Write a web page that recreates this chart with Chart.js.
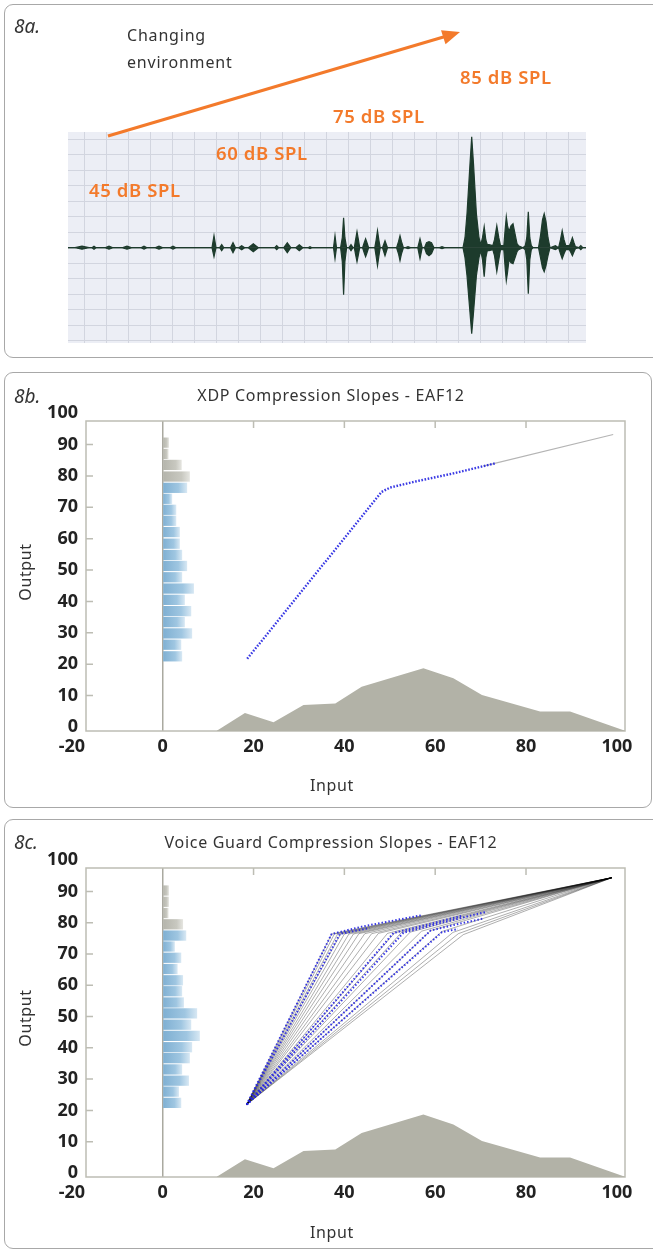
<!DOCTYPE html>
<html>
<head>
<meta charset="utf-8">
<script src="https://cdn.jsdelivr.net/npm/chart.js@4.4.1/dist/chart.umd.min.js"></script>
<style>
body{margin:0;background:#fff;font-family:'Noto Sans',sans-serif;color:#333}
#page{position:relative;width:653px;height:1253px;overflow:hidden}
.panel{position:absolute;border:1.5px solid #a8a8a8;border-radius:9px;box-sizing:border-box}
canvas{position:absolute;left:0}
.t{position:absolute;white-space:nowrap;line-height:1}
.lv{transform:translateY(-50%)}
.cc{transform:translate(-50%,-50%)}
.fig{font-style:italic;font-size:19px;color:#333}
.env{font-size:16px;letter-spacing:0.8px;color:#333}
.spl{font-size:18.5px;font-weight:600;color:#f37a2b;letter-spacing:0.6px}
.ttl{font-size:16px;letter-spacing:0.7px;color:#333}
.ax{font-size:16px;letter-spacing:0.6px;color:#333}
.rot{transform:translate(-50%,-50%) rotate(-90deg)}
</style>
</head>
<body>
<div id="page">
  <div class="panel" style="left:4px;top:4px;width:660px;height:354px"></div>
  <div class="panel" style="left:4px;top:372px;width:648px;height:436px"></div>
  <div class="panel" style="left:4px;top:819px;width:660px;height:430px"></div>

  <canvas id="wave" width="653" height="360" style="top:0"></canvas>
  <canvas id="xdp" width="653" height="440" style="top:370px"></canvas>
  <canvas id="vg" width="653" height="437" style="top:816px"></canvas>

  <svg width="653" height="360" style="position:absolute;left:0;top:0">
    <line x1="108" y1="136" x2="446" y2="36.3" stroke="#f37a2b" stroke-width="3"/>
    <polygon points="460,32 441,30.2 445.5,44.2" fill="#f37a2b"/>
  </svg>

  <div class="t lv fig" style="left:14px;top:26px">8a.</div>
  <div class="t lv env" style="left:127px;top:35px">Changing</div>
  <div class="t lv env" style="left:127px;top:62px">environment</div>
  <div class="t lv spl" style="left:460px;top:77px">85 dB SPL</div>
  <div class="t lv spl" style="left:333px;top:116px">75 dB SPL</div>
  <div class="t lv spl" style="left:216px;top:153px">60 dB SPL</div>
  <div class="t lv spl" style="left:89px;top:190px">45 dB SPL</div>

  <div class="t lv fig" style="left:14px;top:396px">8b.</div>
  <div class="t cc ttl" style="left:331px;top:395px">XDP Compression Slopes - EAF12</div>
  <div class="t rot ax" style="left:25px;top:572px">Output</div>
  <div class="t cc ax" style="left:332px;top:785px">Input</div>

  <div class="t lv fig" style="left:14px;top:842px">8c.</div>
  <div class="t cc ttl" style="left:331px;top:842px">Voice Guard Compression Slopes - EAF12</div>
  <div class="t rot ax" style="left:25px;top:1018px">Output</div>
  <div class="t cc ax" style="left:332px;top:1232px">Input</div>
</div>

<script>
// ---- 8a: speech waveform envelope (t = px from left edge of trace, amplitude up / down)
const WAVE_T = [0, 7, 14, 21, 24, 26, 28, 37, 41, 45, 54, 59, 64, 73, 76, 79, 87, 91, 95, 102, 105, 108,
  144, 146, 148, 151.7, 153.7, 155.7, 162.5, 165, 167.5, 170.7, 173.7, 176.7, 180.3, 185.3, 190.3, 206.7, 208.7, 210.7, 215.8, 219.3, 222.8, 227.8, 231.3, 234.8, 240, 242, 244,
  265.5, 267, 268.5, 272.6, 274.3, 275.6, 276.9, 278.6, 281, 283, 285, 286.3, 287.6, 289, 290.4, 291.7,
  294.6, 296.2, 297.6, 299, 300.6, 306.8, 308.2, 309.5, 310.8, 312.2, 314.5, 317, 319.5, 328.6, 330.5, 332, 333.5, 335.4,
  337, 340, 343, 349.8, 352, 354.2, 356.5, 358.5, 361, 363.5, 366, 371, 374, 377,
  395, 397, 399, 402, 403.7, 405.5, 408.4, 411, 412.8, 414.5, 416.2, 417.8, 419.3, 421,
  424.8, 426.5, 428.8, 430.8, 432.5, 435.8, 437.3, 438.3, 439.5, 441, 443, 445, 447, 449, 450.5,
  455, 457.3, 458.8, 460.3, 461.8, 463.3, 465, 470.5, 472.5, 474.5, 476.2, 478, 480, 482, 487.4,
  490.6, 492.5, 494.2, 496, 497.8, 501.4, 503, 504.4, 506, 507.4, 510.8, 512.8, 514.8, 518];
const WAVE_HI = [0, 0, 1.5, 0, 0, 1.5, 0, 0, 1.5, 0, 0, 1.5, 0, 0, 1.5, 0, 0, 1.5, 0, 0, 1.5, 0,
  0, 12, 0, 0, 3, 0, 0, 5, 0, 0, 2, 0, 0, 4, 0, 0, 2, 0, 0, 5, 0, 0, 3, 0, 0, 1, 0,
  0, 12, 0, 0, 10, 30, 10, 0, 0, 3, 0, 0, 8, 16, 8, 0,
  0, 5, 9, 5, 0, 0, 8, 17, 8, 0, 0, 7, 0, 0, 6, 12, 6, 0,
  0, 1, 0, 0, 9, 0, 0, 5, 6, 5, 0, 0, 1, 0,
  0, 10, 34, 84, 111, 84, 34, 10, 3, 10, 21, 8, 3, 3,
  2, 8, 22, 10, 2, 2, 20, 31, 22, 16, 22, 24, 14, 4, 2,
  0, 2, 10, 36, 10, 2, 0, 0, 12, 28, 34, 26, 10, 0, 2,
  0, 8, 17, 8, 2, 2, 6, 10, 5, 1, 0, 2, 0, 0];
const WAVE_LO = [0, 0, -1.5, 0, 0, -1.5, 0, 0, -1.5, 0, 0, -1.5, 0, 0, -1.5, 0, 0, -1.5, 0, 0, -1.5, 0,
  0, -9, 0, 0, -3, 0, 0, -5, 0, 0, -2, 0, 0, -4, 0, 0, -2, 0, 0, -5, 0, 0, -3, 0, 0, -1, 0,
  0, -11, 0, 0, -14, -47, -14, 0, 0, -3, 0, 0, -7, -14, -7, 0,
  0, -5, -9, -5, 0, 0, -9, -18, -9, 0, 0, -8, 0, 0, -6, -13, -6, 0,
  0, -1, 0, 0, -11, 0, 0, -6, -8, -6, 0, 0, -1, 0,
  0, -10, -28, -65, -86, -65, -28, -10, -3, -12, -29, -10, -3, -3,
  -2, -8, -24, -12, -2, -2, -22, -33, -25, -12, -15, -16, -10, -4, -2,
  0, -2, -12, -46, -12, -2, 0, 0, -10, -20, -24, -18, -8, 0, -2,
  0, -6, -11, -6, -2, -2, -5, -8, -4, -1, 0, -2, 0, 0];

// ---- shared axis ticks for 8b / 8c
const X_TICKS = [-20, 0, 20, 40, 60, 80, 100];
const Y_TICKS = [0, 10, 20, 30, 40, 50, 60, 70, 80, 90, 100];

// input level distribution (grey area), same in 8b and 8c
const DIST_IN = [11.9, 18.1, 24.4, 31.0, 38.0, 43.8, 57.4, 64.0, 70.3, 83.1, 89.7, 101.8];
const DIST_PCT = [-1.2, 4.4, 1.5, 7.0, 7.5, 12.8, 18.7, 15.5, 10.2, 4.9, 4.9, -1.2];

// ---- 8b XDP: output histogram + compression curve
const XDP_BIN_OUT = [22.5, 26.2, 29.8, 33.4, 36.9, 40.5, 44.1, 47.7, 51.3, 54.8, 58.4, 62.1, 65.7, 69.2, 72.7, 76.2, 79.8, 83.5, 87.0, 90.6];
const XDP_BIN_LEN = [4.2, 4.0, 6.4, 4.8, 6.2, 4.8, 6.8, 4.2, 5.3, 4.2, 3.7, 3.7, 2.9, 2.9, 2.0, 5.3, 5.9, 4.1, 1.2, 1.3];
const XDP_CURVE_IN = [18.6, 48.2, 50.1, 55.9, 64.0, 70.6, 73.2];
const XDP_CURVE_OUT = [21.7, 74.9, 76.3, 78.3, 80.8, 83.1, 84.0];
const XDP_TAIL_IN = [70.6, 99.2];
const XDP_TAIL_OUT = [83.1, 93.2];

// ---- 8c Voice Guard: output histogram + family of slopes
const VG_BIN_OUT = [22.4, 26.0, 29.5, 33.1, 36.7, 40.2, 43.8, 47.4, 51.0, 54.5, 58.1, 61.6, 65.2, 68.8, 72.4, 75.9, 79.5, 83.1, 86.7, 90.3];
const VG_BIN_LEN = [4.0, 3.5, 5.7, 4.2, 5.9, 6.4, 8.1, 6.2, 7.5, 4.6, 4.2, 4.4, 3.2, 4.0, 2.6, 5.1, 4.4, 1.2, 1.3, 1.3];
const VG_START = {x: 18.5, y: 21.9};
const VG_END = {x: 98.9, y: 94.4};
const VG_KNEE_IN = [37.2, 37.8, 38.5, 39.2, 40.0, 41.0, 42.0, 43.2, 44.5, 46.0, 47.5, 49.5, 51.0, 52.5, 54.5, 57.0, 59.0, 61.5, 63.9, 65.1, 66.2];
const VG_KNEE_OUT = [76.4, 76.4, 76.4, 76.4, 76.4, 76.4, 76.4, 76.5, 76.5, 76.5, 76.6, 76.6, 76.7, 76.8, 77.0, 77.3, 77.5, 77.2, 76.9, 76.5, 76.2];
const VG_DOTS_IN = [[18.5, 37.2, 44.0, 57.0], [18.5, 39.0, 45.5], [18.5, 50.8, 58.0, 66.0], [18.5, 53.0, 62.0, 71.0], [18.5, 59.0, 64.5, 70.5], [18.5, 61.5, 65.0]];
const VG_DOTS_OUT = [[21.9, 76.4, 78.8, 82.4], [21.9, 76.4, 78.3], [21.9, 76.7, 79.3, 82.3], [21.9, 76.8, 80.2, 83.4], [21.9, 77.5, 79.4, 81.3], [21.9, 77.0, 78.0]];

const TICK_FONT = {family: "'Noto Sans', sans-serif", size: 18, weight: 'bold'};
const BLUE = 'rgba(35,35,225,0.9)';

function pts(xs, ys){
  return xs.map((x, i) => ({x: x, y: ys[i]}));
}

// ---------- 8a ----------
const waveBg = {
  id: 'waveBg',
  beforeDraw(chart){
    const a = chart.chartArea, c = chart.ctx;
    c.save(); c.fillStyle = '#eceef5'; c.fillRect(a.left, a.top, a.right - a.left, a.bottom - a.top); c.restore();
  }
};

function makeWave(){
  const grid = {color: c => (c.tick && c.tick.value === 0) ? '#707271' : '#d2d5df', drawTicks: false, lineWidth: 1};
  new Chart(document.getElementById('wave'), {
    type: 'line',
    data: {
      datasets: [
        {data: pts(WAVE_T, WAVE_HI), fill: 'origin', backgroundColor: '#1d3b2c', borderColor: '#1d3b2c', borderWidth: 1.2, pointRadius: 0},
        {data: pts(WAVE_T, WAVE_LO), fill: 'origin', backgroundColor: '#1d3b2c', borderColor: '#1d3b2c', borderWidth: 1.2, pointRadius: 0}
      ]
    },
    options: {
      responsive: false, animation: false,
      layout: {padding: {left: 68, right: 67, top: 132, bottom: 17}},
      plugins: {legend: {display: false}, tooltip: {enabled: false}},
      scales: {
        x: {type: 'linear', min: 0, max: 518, ticks: {display: false}, grid: grid, border: {display: false},
          afterBuildTicks: s => { const t = []; for(let v = 16.6; v < 518; v += 22) t.push({value: v}); s.ticks = t; },
          afterFit: s => { s.height = 0; }},
        y: {type: 'linear', min: -95.3, max: 115.7, ticks: {display: false, stepSize: 15.5, includeBounds: false}, grid: grid, border: {display: false},
          afterFit: s => { s.width = 0; }}
      }
    },
    plugins: [waveBg]
  });
}

// ---------- 8b / 8c ----------
const framePlugin = {
  id: 'frame',
  beforeDatasetsDraw(chart){
    const c = chart.ctx, a = chart.chartArea, x = chart.scales.x, y = chart.scales.y;
    c.save();
    c.strokeStyle = '#bdbdb4'; c.lineWidth = 1.5;
    c.strokeRect(a.left, a.top, a.right - a.left, a.bottom - a.top);
    c.beginPath();
    x.ticks.forEach(t => {
      if(t.value > x.min + 1 && t.value < x.max - 2 && t.value !== 0){
        const px = x.getPixelForValue(t.value); c.moveTo(px, a.top); c.lineTo(px, a.top + 7);
      }
    });
    y.ticks.forEach(t => {
      if(t.value > y.min + 2 && t.value < y.max - 1){
        const py = y.getPixelForValue(t.value); c.moveTo(a.left, py); c.lineTo(a.left + 7, py);
      }
    });
    c.stroke();
    c.restore();
  }
};

function barFill(ctx){
  const chart = ctx.chart, xs = chart.scales.x;
  const raw = ctx.raw || {x: 0, y: 0};
  const grey = raw.y >= 78;
  if(!xs || !chart.chartArea || !raw.x) return grey ? '#c2c2b9' : '#93bedb';
  const x0 = xs.getPixelForValue(0), x1 = xs.getPixelForValue(raw.x);
  const g = chart.ctx.createLinearGradient(x0, 0, x1, 0);
  if(grey){
    g.addColorStop(0, '#b4b4ab'); g.addColorStop(0.7, '#c8c8c0'); g.addColorStop(1, '#e4e4df');
  } else {
    g.addColorStop(0, '#7eafd2'); g.addColorStop(0.65, '#9fc6e1'); g.addColorStop(1, '#d6e7f3');
  }
  return g;
}

function makeSlopes(id, padTop, padBottom, binOut, binLen, lines){
  const datasets = [
    {type: 'bar', indexAxis: 'y', data: pts(binLen, binOut), backgroundColor: barFill, borderWidth: 0, barThickness: 9.6, order: 2},
    {data: pts(DIST_IN, DIST_PCT), fill: 'start', backgroundColor: '#b2b2a7', borderWidth: 0, pointRadius: 0, order: 3}
  ].concat(lines);
  new Chart(document.getElementById(id), {
    type: 'line',
    data: {datasets: datasets},
    options: {
      responsive: false, animation: false,
      layout: {padding: {left: 0, right: 28, top: padTop, bottom: padBottom}},
      plugins: {legend: {display: false}, tooltip: {enabled: false}},
      scales: {
        x: {type: 'linear', min: -16.9, max: 101.8, offset: false,
          afterBuildTicks: s => { s.ticks = X_TICKS.map(v => ({value: v})); },
          afterFit: s => { s.height = 40; },
          ticks: {font: TICK_FONT, color: '#222', padding: 5, maxRotation: 0, autoSkip: false},
          grid: {offset: false, drawTicks: false, lineWidth: 1.5, color: c => (c.tick && c.tick.value === 0) ? '#aaa9a0' : 'rgba(0,0,0,0)'},
          border: {display: false}},
        y: {type: 'linear', min: -1.3, max: 97.5, offset: false,
          afterBuildTicks: s => { s.ticks = Y_TICKS.map(v => ({value: v})); },
          afterFit: s => { s.width = 86; },
          ticks: {font: TICK_FONT, color: '#222', padding: 8, autoSkip: false},
          grid: {display: false, offset: false, drawTicks: false},
          border: {display: false}}
      }
    },
    plugins: [framePlugin]
  });
}

function xdpLines(){
  return [
    {data: pts(XDP_TAIL_IN, XDP_TAIL_OUT), borderColor: '#b4b4b4', borderWidth: 1.2, pointRadius: 0, order: 1},
    {data: pts(XDP_CURVE_IN, XDP_CURVE_OUT), borderColor: BLUE, borderWidth: 2.4, borderDash: [1.6, 1.6], pointRadius: 0, order: 0}
  ];
}

function vgLines(){
  const out = [];
  VG_KNEE_IN.forEach((k, i) => {
    out.push({data: [VG_START, {x: k, y: VG_KNEE_OUT[i]}, VG_END], borderColor: 'rgba(0,0,0,0.32)', borderWidth: 1, pointRadius: 0, order: 1});
  });
  VG_DOTS_IN.forEach((xs, i) => {
    out.push({data: pts(xs, VG_DOTS_OUT[i]), borderColor: BLUE, borderWidth: 2, borderDash: [1.5, 2], pointRadius: 0, order: 0});
  });
  return out;
}

makeWave();
makeSlopes('xdp', 51, 39, XDP_BIN_OUT, XDP_BIN_LEN, xdpLines());
makeSlopes('vg', 52, 36, VG_BIN_OUT, VG_BIN_LEN, vgLines());
</script>
</body>
</html>
